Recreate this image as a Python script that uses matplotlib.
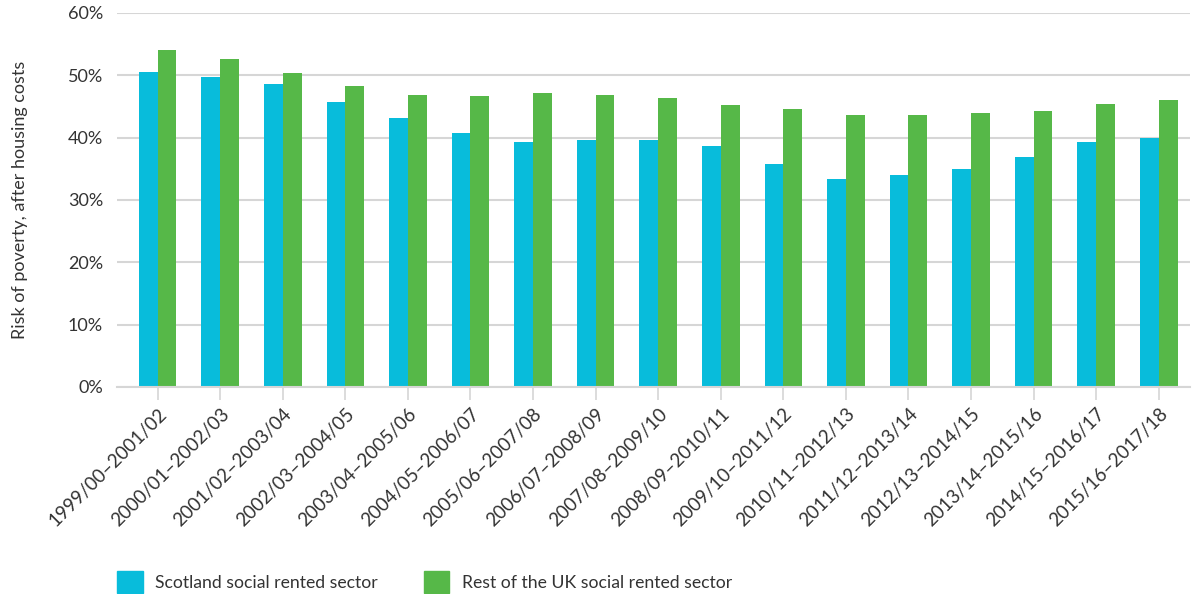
import numpy as np
import matplotlib.pyplot as plt
from matplotlib.patches import Patch
from matplotlib.ticker import FuncFormatter

periods = ['1999/00\u20132001/02', '2000/01\u20132002/03', '2001/02\u20132003/04',
           '2002/03\u20132004/05', '2003/04\u20132005/06', '2004/05\u20132006/07',
           '2005/06\u20132007/08', '2006/07\u20132008/09', '2007/08\u20132009/10',
           '2008/09\u20132010/11', '2009/10\u20132011/12', '2010/11\u20132012/13',
           '2011/12\u20132013/14', '2012/13\u20132014/15', '2013/14\u20132015/16',
           '2014/15\u20132016/17', '2015/16\u20132017/18']
scotland = [50.5, 49.7, 48.6, 45.7, 43.2, 40.8, 39.3, 39.6, 39.6, 38.7,
            35.8, 33.4, 34.0, 35.0, 36.9, 39.3, 39.9]
rest_uk = [54.1, 52.6, 50.4, 48.3, 46.8, 46.6, 47.2, 46.8, 46.4, 45.2,
           44.6, 43.6, 43.6, 44.0, 44.3, 45.4, 46.0]

blue = '#08bcdb'
green = '#56b848'
text_col = '#333333'
grid_col = '#d6d6d6'

plt.rcParams['font.family'] = ['Lato', 'DejaVu Sans']

fig = plt.figure(figsize=(11.93, 5.94), dpi=100)
ax = fig.add_axes([0.098, 0.3485, 0.8995, 0.6297])

x = np.arange(len(periods))
w = 0.3
ax.bar(x - w / 2, scotland, w, color=blue, zorder=3)
ax.bar(x + w / 2, rest_uk, w, color=green, zorder=3)

ax.set_ylim(0, 60)
ax.set_xlim(-0.65, 16.5)
ax.set_yticks(range(0, 61, 10))
ax.yaxis.set_major_formatter(FuncFormatter(lambda v, p: f'{int(v)}%'))
ax.grid(axis='y', color=grid_col, linewidth=1.5, zorder=0)

for s in ['top', 'right', 'left']:
    ax.spines[s].set_visible(False)
ax.spines['bottom'].set_color(grid_col)
ax.spines['bottom'].set_linewidth(1.5)
ax.spines['bottom'].set_zorder(4)

ax.tick_params(axis='y', length=0, pad=10, labelsize=13, labelcolor=text_col)
ax.tick_params(axis='x', length=9, width=1.2, color=grid_col, pad=4,
               labelsize=13.5, labelcolor=text_col)
ax.set_xticks(x)
ax.set_xticklabels(periods, rotation=45, ha='right', rotation_mode='anchor')

ax.set_ylabel('Risk of poverty, after housing costs', fontsize=13,
              color=text_col)
ax.yaxis.set_label_coords(-0.083, 0.5)

handles = [Patch(color=blue, label='Scotland social rented sector'),
           Patch(color=green, label='Rest of the UK social rented sector')]
fig.legend(handles=handles, loc='center left', bbox_to_anchor=(0.085, 0.02),
           ncol=2, frameon=False, fontsize=12.7, handlelength=1.45,
           handleheight=1.5, handletextpad=0.7, columnspacing=2.6,
           labelcolor=text_col)

fig.savefig('out.png', dpi=100)
